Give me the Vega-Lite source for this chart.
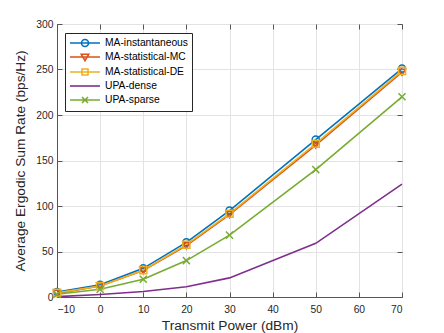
{
  "$schema": "https://vega.github.io/schema/vega-lite/v6.json",
  "width": 345,
  "height": 273,
  "autosize": {"type": "none"},
  "padding": {"left": 57, "top": 24, "right": 42, "bottom": 36},
  "background": "white",
  "config": {
    "font": "Liberation Sans",
    "view": {"stroke": "#555555", "strokeWidth": 1},
    "axis": {
      "labelFont": "Liberation Sans",
      "labelFontSize": 10.3,
      "labelColor": "#262626",
      "titleFont": "Liberation Sans",
      "titleFontSize": 13.7,
      "titleFontWeight": "normal",
      "titleColor": "#262626",
      "domainColor": "#555555",
      "tickColor": "#555555",
      "gridColor": "#e3e3e3",
      "gridOpacity": 1
    }
  },
  "data": {
    "values": [
      {"p": -10, "r": 5.5, "s": "MA-instantaneous"},
      {"p": 0, "r": 13.5, "s": "MA-instantaneous"},
      {"p": 10, "r": 31.5, "s": "MA-instantaneous"},
      {"p": 20, "r": 60, "s": "MA-instantaneous"},
      {"p": 30, "r": 95, "s": "MA-instantaneous"},
      {"p": 50, "r": 173, "s": "MA-instantaneous"},
      {"p": 70, "r": 251, "s": "MA-instantaneous"},
      {"p": -10, "r": 4, "s": "MA-statistical-MC"},
      {"p": 0, "r": 12, "s": "MA-statistical-MC"},
      {"p": 10, "r": 29, "s": "MA-statistical-MC"},
      {"p": 20, "r": 56.5, "s": "MA-statistical-MC"},
      {"p": 30, "r": 90.5, "s": "MA-statistical-MC"},
      {"p": 50, "r": 167, "s": "MA-statistical-MC"},
      {"p": 70, "r": 247, "s": "MA-statistical-MC"},
      {"p": -10, "r": 4.5, "s": "MA-statistical-DE"},
      {"p": 0, "r": 12, "s": "MA-statistical-DE"},
      {"p": 10, "r": 29.5, "s": "MA-statistical-DE"},
      {"p": 20, "r": 57.5, "s": "MA-statistical-DE"},
      {"p": 30, "r": 91.5, "s": "MA-statistical-DE"},
      {"p": 50, "r": 168.5, "s": "MA-statistical-DE"},
      {"p": 70, "r": 248.5, "s": "MA-statistical-DE"},
      {"p": -10, "r": 0.4, "s": "UPA-dense"},
      {"p": 0, "r": 2.8, "s": "UPA-dense"},
      {"p": 10, "r": 6, "s": "UPA-dense"},
      {"p": 20, "r": 11.3, "s": "UPA-dense"},
      {"p": 30, "r": 21, "s": "UPA-dense"},
      {"p": 50, "r": 59, "s": "UPA-dense"},
      {"p": 70, "r": 124, "s": "UPA-dense"},
      {"p": -10, "r": 3, "s": "UPA-sparse"},
      {"p": 0, "r": 8.5, "s": "UPA-sparse"},
      {"p": 10, "r": 19.5, "s": "UPA-sparse"},
      {"p": 20, "r": 40, "s": "UPA-sparse"},
      {"p": 30, "r": 68, "s": "UPA-sparse"},
      {"p": 50, "r": 140, "s": "UPA-sparse"},
      {"p": 70, "r": 220, "s": "UPA-sparse"}
    ]
  },
  "layer": [
    {
      "mark": {"type": "line", "strokeWidth": 1.6},
      "encoding": {
        "x": {
          "field": "p", "type": "quantitative",
          "scale": {"domain": [-10, 70], "nice": false, "zero": false},
          "axis": {"orient": "bottom", "values": [-10, 0, 10, 20, 30, 40, 50, 60, 70], "title": "Transmit Power (dBm)", "tickSize": -5, "labelPadding": 12, "titlePadding": 4, "grid": true, "domain": true}
        },
        "y": {
          "field": "r", "type": "quantitative",
          "scale": {"domain": [0, 300], "nice": false},
          "axis": {"orient": "left", "values": [0, 50, 100, 150, 200, 250, 300], "title": "Average Ergodic Sum Rate (bps/Hz)", "tickSize": -5, "labelPadding": 9, "titlePadding": 8, "grid": true, "domain": true}
        },
        "color": {
          "field": "s", "type": "nominal",
          "scale": {
            "domain": ["MA-instantaneous", "MA-statistical-MC", "MA-statistical-DE", "UPA-dense", "UPA-sparse"],
            "range": ["#0072BD", "#D95319", "#EDB120", "#7E2F8E", "#77AC30"]
          },
          "legend": {
            "title": null,
            "orient": "none",
            "legendX": 8,
            "legendY": 9,
            "padding": 4,
            "rowPadding": 1,
            "symbolSize": 100,
            "labelOffset": 24,
            "labelFontSize": 10.3,
            "labelFont": "Liberation Sans",
            "labelColor": "#000000",
            "strokeColor": "#262626",
            "fillColor": "white",
            "cornerRadius": 0,
            "symbolStrokeWidth": 1.6,
            "encode": {
              "symbols": {
                "update": {
                  "shape": {"signal": "datum.value === 'MA-instantaneous' ? 'M-1,0L5,0M1.3,0A0.7,0.7 0 1,0 2.7,0A0.7,0.7 0 1,0 1.3,0' : datum.value === 'MA-statistical-MC' ? 'M-1,0L5,0M1.25,-0.55L2.75,-0.55L2,0.75Z' : datum.value === 'MA-statistical-DE' ? 'M-1,0L5,0M1.4,-0.6H2.6V0.6H1.4Z' : datum.value === 'UPA-sparse' ? 'M-1,0L5,0M1.4,-0.6L2.6,0.6M1.4,0.6L2.6,-0.6' : 'M-1,0L5,0'"},
                  "size": {"value": 100},
                  "strokeWidth": {"value": 1.6},
                  "fill": {"value": "transparent"},
                  "opacity": {"value": 1}
                }
              }
            }
          }
        }
      }
    },
    {
      "transform": [{"filter": "datum.s !== 'UPA-dense'"}],
      "mark": {"type": "point", "filled": false, "strokeWidth": 1.5, "size": 50, "opacity": 1},
      "encoding": {
        "x": {
          "field": "p", "type": "quantitative",
          "axis": {"orient": "top", "values": [-10, 0, 10, 20, 30, 40, 50, 60, 70], "labels": false, "title": null, "tickSize": -5, "grid": false, "domain": false}
        },
        "y": {
          "field": "r", "type": "quantitative",
          "axis": {"orient": "right", "values": [0, 50, 100, 150, 200, 250, 300], "labels": false, "title": null, "tickSize": -5, "grid": false, "domain": false}
        },
        "stroke": {
          "field": "s", "type": "nominal",
          "scale": {
            "domain": ["MA-instantaneous", "MA-statistical-MC", "MA-statistical-DE", "UPA-sparse"],
            "range": ["#0072BD", "#D95319", "#EDB120", "#77AC30"]
          },
          "legend": null
        },
        "shape": {
          "field": "s", "type": "nominal",
          "scale": {
            "domain": ["MA-instantaneous", "MA-statistical-MC", "MA-statistical-DE", "UPA-sparse"],
            "range": ["circle", "triangle-down", "square", "M-1,-1L1,1M-1,1L1,-1"]
          },
          "legend": null
        }
      }
    }
  ],
  "resolve": {"axis": {"x": "independent", "y": "independent"}}
}
